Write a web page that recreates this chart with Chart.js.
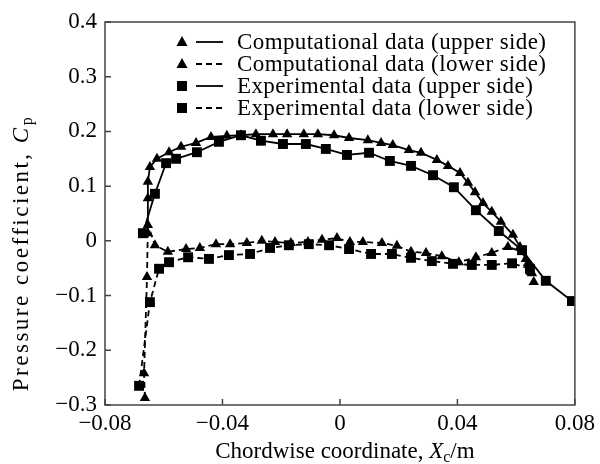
<!DOCTYPE html>
<html>
<head>
<meta charset="utf-8">
<script src="https://cdn.jsdelivr.net/npm/chart.js@4"></script>
<style>
  html, body { margin: 0; padding: 0; background: #fff; }
  #wrap { width: 600px; height: 464px; }
</style>
</head>
<body>
<div id="wrap"><canvas id="cpChart"></canvas></div>
<script>
// tick values
const xTicks = [-0.08, -0.04, 0, 0.04, 0.08];
const yTicks = [-0.3, -0.2, -0.1, 0, 0.1, 0.2, 0.3, 0.4];

// computational data, upper side
const compUpperX = [-0.0654,-0.0654,-0.0654,-0.0647,-0.0623,-0.0582,-0.0541,-0.0490,-0.0439,-0.0385,-0.0337,-0.0286,-0.0228,-0.0180,-0.0123,-0.0075,-0.0020,0.0031,0.0095,0.0140,0.0180,0.0235,0.0276,0.0330,0.0368,0.0409,0.0436,0.0460,0.0487,0.0517,0.0548,0.0589,0.0613,0.0633,0.0650];
const compUpperY = [0.014,0.078,0.108,0.135,0.150,0.162,0.172,0.179,0.190,0.192,0.193,0.195,0.195,0.195,0.195,0.195,0.193,0.188,0.184,0.179,0.175,0.166,0.161,0.148,0.137,0.124,0.106,0.089,0.069,0.053,0.035,0.011,-0.011,-0.033,-0.057];

// computational data, lower side
const compLowerX = [-0.0664,-0.0667,-0.0657,-0.0654,-0.0630,-0.0586,-0.0524,-0.0477,-0.0422,-0.0374,-0.0317,-0.0266,-0.0221,-0.0167,-0.0109,-0.0061,-0.0010,0.0034,0.0078,0.0143,0.0194,0.0242,0.0293,0.0347,0.0405,0.0463,0.0517,0.0572,0.0620,0.0640,0.0654,0.0660];
const compLowerY = [-0.287,-0.242,-0.066,0.029,-0.008,-0.020,-0.015,-0.013,-0.006,-0.006,-0.004,0.000,-0.002,-0.004,-0.002,0.002,0.005,-0.002,-0.002,-0.004,-0.009,-0.020,-0.022,-0.028,-0.039,-0.030,-0.022,-0.011,-0.020,-0.041,-0.059,-0.075];

// experimental data, upper side
const expUpperX = [-0.0671,-0.0630,-0.0592,-0.0558,-0.0487,-0.0412,-0.0337,-0.0269,-0.0194,-0.0116,-0.0048,0.0024,0.0099,0.0170,0.0242,0.0317,0.0388,0.0463,0.0541,0.0620,0.0701,0.0790];
const expUpperY = [0.014,0.086,0.142,0.150,0.162,0.181,0.193,0.183,0.177,0.177,0.168,0.157,0.161,0.146,0.137,0.120,0.098,0.056,0.018,-0.017,-0.073,-0.110];

// experimental data, lower side
const expLowerX = [-0.0684,-0.0647,-0.0616,-0.0582,-0.0517,-0.0446,-0.0378,-0.0306,-0.0238,-0.0174,-0.0106,-0.0037,0.0031,0.0106,0.0177,0.0242,0.0313,0.0385,0.0449,0.0517,0.0586,0.0647];
const expLowerY = [-0.265,-0.112,-0.051,-0.039,-0.030,-0.033,-0.026,-0.024,-0.013,-0.008,-0.006,-0.008,-0.015,-0.024,-0.024,-0.031,-0.037,-0.042,-0.044,-0.044,-0.041,-0.051];

const seriesNames = [
  'Computational data (upper side)',
  'Computational data (lower side)',
  'Experimental data (upper side)',
  'Experimental data (lower side)'
];

const FONT = '"Liberation Serif", "Times New Roman", serif';
const FS = 23;
const DASH = [6, 4];

function pts(xs, ys) {
  return xs.map((x, i) => ({ x: x, y: ys[i] }));
}

function fmt(v) {
  let s = String(Math.round(v * 100) / 100);
  return s.replace('-', '\u2212');
}

function series(label, xs, ys, style, dashed) {
  return {
    label: label,
    data: pts(xs, ys),
    showLine: true,
    borderColor: '#000',
    backgroundColor: '#000',
    borderWidth: 1.8,
    borderDash: dashed ? DASH : [],
    pointStyle: style,
    pointRadius: style === 'rect' ? 7 : 6,
    pointBorderWidth: 0,
    tension: 0
  };
}

// box, inward ticks, legend and axis titles
const decor = {
  id: 'decor',
  afterDraw(chart) {
    const ctx = chart.ctx;
    const a = chart.chartArea;
    const xs = chart.scales.x, ys = chart.scales.y;
    ctx.save();
    ctx.strokeStyle = '#444';
    ctx.lineWidth = 1.5;
    ctx.strokeRect(a.left, a.top, a.right - a.left, a.bottom - a.top);
    ctx.beginPath();
    xTicks.forEach(v => {
      const px = xs.getPixelForValue(v);
      ctx.moveTo(px, a.bottom); ctx.lineTo(px, a.bottom - 6);
    });
    yTicks.forEach(v => {
      const py = ys.getPixelForValue(v);
      ctx.moveTo(a.left, py); ctx.lineTo(a.left + 6, py);
    });
    ctx.stroke();

    // legend
    ctx.fillStyle = '#000';
    ctx.strokeStyle = '#000';
    ctx.lineWidth = 1.8;
    ctx.font = FS + 'px ' + FONT;
    ctx.letterSpacing = '0.4px';
    ctx.textBaseline = 'middle';
    const rows = [42, 64, 86, 108];
    seriesNames.forEach((name, i) => {
      const y = rows[i];
      const tri = i < 2;
      ctx.beginPath();
      if (tri) {
        ctx.moveTo(182, y - 6); ctx.lineTo(187.5, y + 4); ctx.lineTo(176.5, y + 4);
      } else {
        ctx.rect(177, y - 5, 10, 10);
      }
      ctx.fill();
      ctx.beginPath();
      ctx.setLineDash(i % 2 ? DASH : []);
      ctx.moveTo(196, y); ctx.lineTo(223, y);
      ctx.stroke();
      ctx.setLineDash([]);
      ctx.fillText(name, 237, y + 1);
    });
    ctx.letterSpacing = '0px';

    // x title
    const parts = [
      ['Chordwise coordinate, ', FS + 'px ' + FONT, 0],
      ['X', 'italic ' + FS + 'px ' + FONT, 0],
      ['c', '16px ' + FONT, 6],
      ['/m', FS + 'px ' + FONT, 0]
    ];
    drawParts(ctx, parts, (a.left + a.right) / 2 + 5, 452, '0px');

    // y title
    ctx.save();
    ctx.translate(22, 253);
    ctx.rotate(-Math.PI / 2);
    drawParts(ctx, [
      ['Pressure coefficient, ', FS + 'px ' + FONT, 0],
      ['C', 'italic ' + FS + 'px ' + FONT, 0],
      ['p', '16px ' + FONT, 6]
    ], 0, 0, '2.5px');
    ctx.restore();
    ctx.restore();
  }
};

function drawParts(ctx, parts, cx, cy, spacing) {
  ctx.letterSpacing = spacing;
  let total = 0;
  parts.forEach(p => { ctx.font = p[1]; total += ctx.measureText(p[0]).width; });
  let x = cx - total / 2;
  ctx.textBaseline = 'middle';
  ctx.textAlign = 'left';
  parts.forEach(p => {
    ctx.font = p[1];
    ctx.fillText(p[0], x, cy + p[2]);
    x += ctx.measureText(p[0]).width;
  });
  ctx.letterSpacing = '0px';
}

const config = {
  type: 'scatter',
  data: {
    datasets: [
      series(seriesNames[0], compUpperX, compUpperY, 'triangle', false),
      series(seriesNames[1], compLowerX, compLowerY, 'triangle', true),
      series(seriesNames[2], expUpperX, expUpperY, 'rect', false),
      series(seriesNames[3], expLowerX, expLowerY, 'rect', true)
    ]
  },
  options: {
    responsive: true,
    maintainAspectRatio: false,
    animation: false,
    layout: { padding: { top: 22, right: 25, left: 0, bottom: 0 } },
    plugins: {
      legend: { display: false },
      tooltip: { enabled: false }
    },
    scales: {
      x: {
        type: 'linear',
        min: -0.08, max: 0.08,
        afterFit: s => { s.height = 59; },
        afterBuildTicks: s => { s.ticks = xTicks.map(v => ({ value: v })); },
        grid: { display: false, drawTicks: false },
        border: { display: false },
        ticks: {
          padding: 5,
          color: '#000',
          font: { family: FONT, size: FS },
          callback: v => fmt(v)
        }
      },
      y: {
        type: 'linear',
        min: -0.3, max: 0.4,
        afterFit: s => { s.width = 105; },
        afterBuildTicks: s => { s.ticks = yTicks.map(v => ({ value: v })); },
        grid: { display: false, drawTicks: false },
        border: { display: false },
        ticks: {
          padding: 8,
          color: '#000',
          font: { family: FONT, size: FS },
          callback: v => fmt(v)
        }
      }
    }
  },
  plugins: [decor]
};

const ctx = document.getElementById('cpChart').getContext('2d');
let chart = new Chart(ctx, config);
</script>
</body>
</html>
